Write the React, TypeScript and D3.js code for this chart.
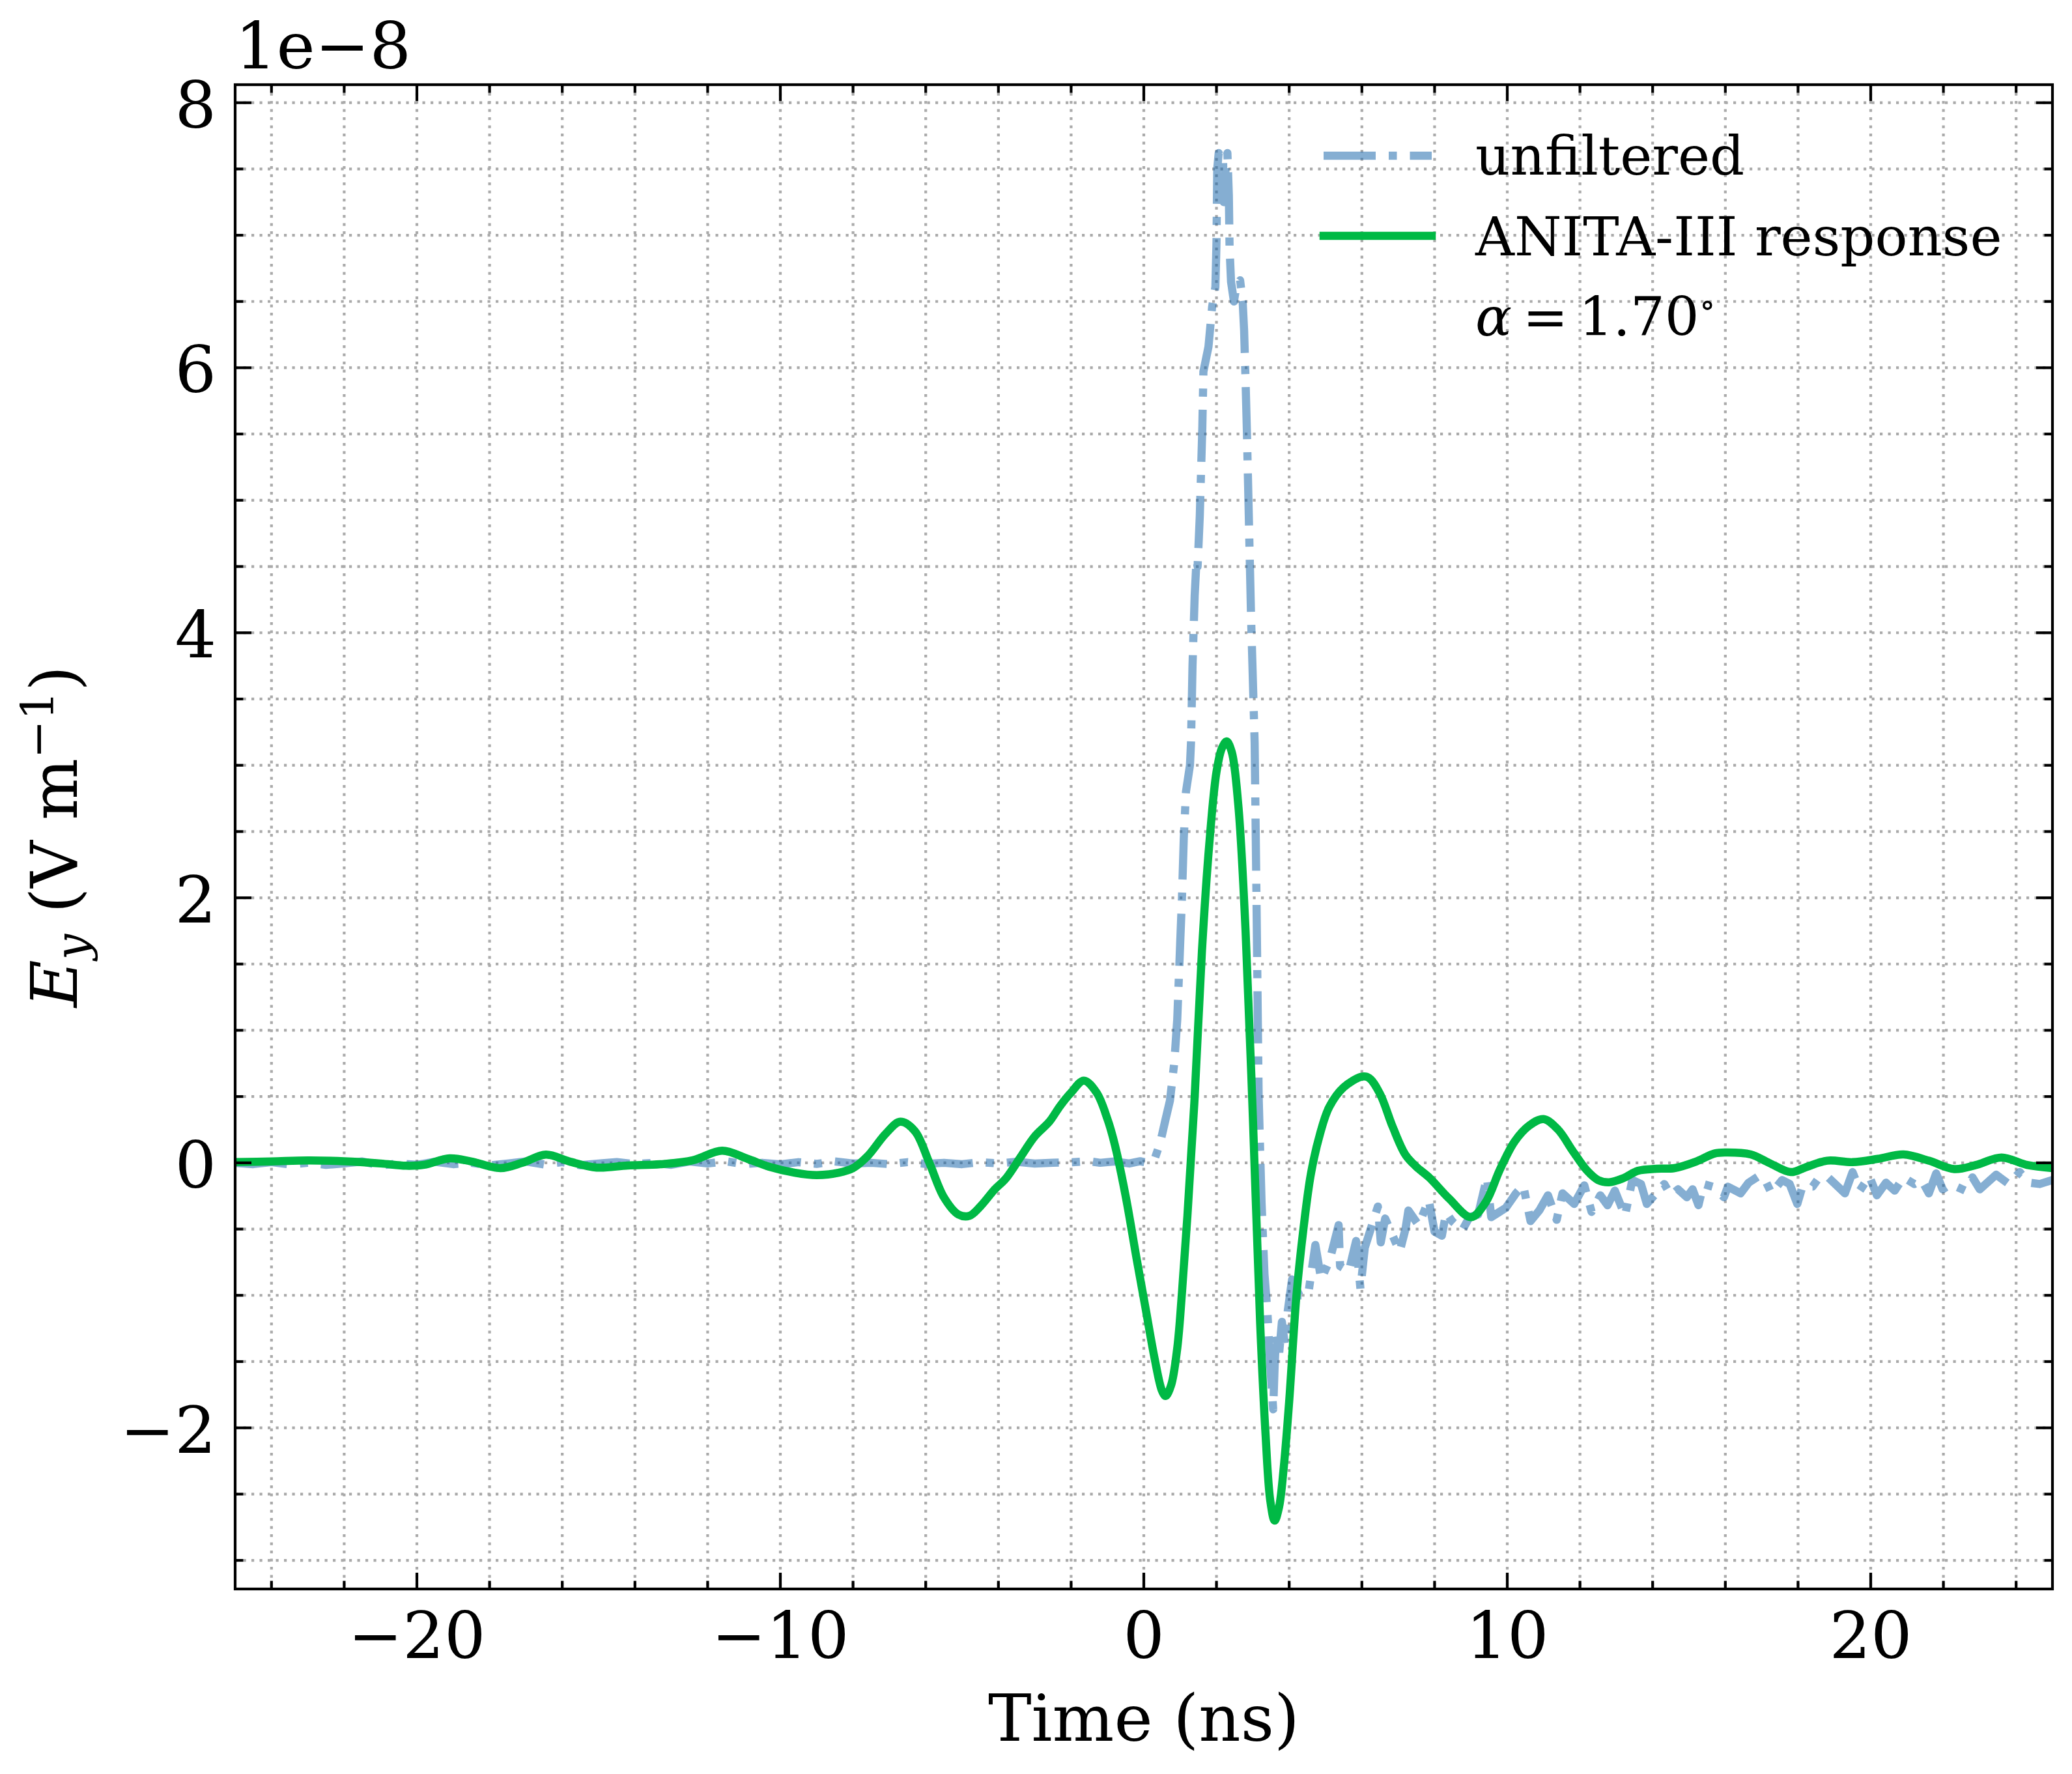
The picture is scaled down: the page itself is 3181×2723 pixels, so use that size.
import React from 'react';
import * as d3 from 'd3';

// ---------- data: [time (ns), E_y in units of 1e-8 V/m] ----------
const unfilteredSamples: [number, number][] = [
  [-25, 0.0], [-24.5, -0.01], [-24, 0.005], [-23.5, -0.012], [-23, 0.0], [-22.5, -0.015], [-22, -0.005],
  [-21.5, 0.01], [-21, -0.02], [-20.5, -0.005], [-20, -0.015], [-19.5, 0.008], [-19, -0.01], [-18.5, 0.0],
  [-18, -0.02], [-17.5, -0.005], [-17, 0.01], [-16.5, -0.012], [-16, 0.005], [-15.5, -0.018], [-15, -0.005],
  [-14.5, 0.006], [-14, -0.01], [-13.5, 0.0], [-13, -0.015], [-12.5, 0.01], [-12, -0.005], [-11.5, 0.012],
  [-11, -0.01], [-10.5, 0.0], [-10, -0.012], [-9.5, 0.005], [-9, -0.008], [-8.5, 0.01], [-8, -0.005],
  [-7.5, 0.0], [-7, -0.01], [-6.5, 0.005], [-6, -0.008], [-5.5, 0.0], [-5, -0.01], [-4.5, 0.005],
  [-4, -0.005], [-3.5, 0.008], [-3, -0.006], [-2.5, 0.0], [-2, 0.004], [-1.5, 0.012], [-1.2, 0.0],
  [-0.8, 0.01], [-0.4, -0.005], [-0.1, 0.012], [0.1, 0.0], [0.3, 0.03],
  [0.45, 0.15], [0.6, 0.33], [0.72, 0.47], [0.84, 0.76], [0.92, 1.08], [1.0, 1.65], [1.05, 2.0],
  [1.1, 2.45], [1.16, 2.8], [1.27, 3.0], [1.3, 3.18], [1.34, 3.75], [1.4, 4.28], [1.45, 4.55],
  [1.48, 4.5], [1.54, 4.88], [1.61, 5.55], [1.64, 5.97], [1.78, 6.16], [1.88, 6.46], [1.97, 6.61],
  [2.0, 6.95], [2.02, 7.5], [2.06, 7.62], [2.12, 7.58], [2.18, 7.59], [2.2, 7.25], [2.26, 7.55],
  [2.3, 7.62], [2.34, 7.3], [2.36, 6.9], [2.4, 6.65], [2.48, 6.5], [2.55, 6.62], [2.65, 6.66],
  [2.72, 6.5], [2.76, 6.28], [2.8, 5.9], [2.84, 5.48], [2.95, 4.13], [3.05, 3.17], [3.1, 2.0],
  [3.16, 0.5], [3.24, -0.3], [3.32, -0.84], [3.4, -1.12], [3.48, -1.53], [3.56, -1.86], [3.6, -1.53],
  [3.64, -1.29], [3.72, -1.45], [3.8, -1.2], [3.88, -1.37], [3.96, -1.12], [4.08, -0.88], [4.28, -1.0],
  [4.52, -1.0], [4.72, -0.62], [4.88, -0.88], [5.12, -0.73], [5.36, -0.47], [5.4, -0.78], [5.64, -0.82],
  [5.84, -0.59], [5.96, -0.95], [6.08, -0.64], [6.44, -0.33], [6.52, -0.6], [6.64, -0.42], [7.04, -0.67],
  [7.2, -0.5], [7.28, -0.36], [7.56, -0.47], [7.84, -0.28], [8.0, -0.52], [8.2, -0.55], [8.32, -0.375],
  [8.48, -0.44], [8.76, -0.51], [8.96, -0.41], [9.2, -0.39], [9.44, -0.11], [9.56, -0.41], [9.76, -0.375],
  [9.96, -0.34], [10.24, -0.23], [10.44, -0.17], [10.64, -0.44], [10.88, -0.36], [11.12, -0.245],
  [11.36, -0.43], [11.52, -0.23], [11.84, -0.31], [12.12, -0.17], [12.32, -0.37], [12.56, -0.245],
  [12.76, -0.32], [12.96, -0.21], [13.24, -0.4], [13.44, -0.13], [13.68, -0.16], [13.84, -0.31],
  [14.16, -0.21], [14.32, -0.16], [14.5, -0.245], [14.7, -0.2], [14.94, -0.26], [15.1, -0.2],
  [15.26, -0.32], [15.4, -0.16], [15.65, -0.18], [15.96, -0.26], [16.07, -0.18], [16.42, -0.23],
  [16.64, -0.15], [16.92, -0.1], [17.06, -0.11], [17.27, -0.23], [17.56, -0.13], [17.77, -0.16],
  [17.98, -0.31], [18.12, -0.18], [18.4, -0.18], [18.58, -0.11], [18.83, -0.11], [19.29, -0.23],
  [19.5, -0.07], [19.7, -0.21], [19.96, -0.1], [20.17, -0.245], [20.42, -0.15], [20.66, -0.21],
  [20.9, -0.11], [21.2, -0.16], [21.4, -0.13], [21.6, -0.23], [21.8, -0.08], [21.98, -0.2],
  [22.2, -0.16], [22.6, -0.21], [22.8, -0.11], [23.0, -0.2], [23.45, -0.09], [23.6, -0.12],
  [23.8, -0.16], [24.1, -0.07], [24.37, -0.15], [24.65, -0.16], [25, -0.13],
];

const responseSamples: [number, number][] = [
  [-25, 0.005], [-24, 0.01], [-23, 0.018], [-22, 0.012], [-21, -0.005], [-20.3, -0.022], [-19.8, -0.015],
  [-19.1, 0.034], [-18.5, 0.01], [-17.7, -0.04], [-17.1, 0.0], [-16.45, 0.062], [-15.8, 0.01],
  [-15.05, -0.036], [-14.2, -0.02], [-13.3, -0.011], [-12.4, 0.02], [-11.6, 0.092], [-10.9, 0.03],
  [-10.3, -0.03], [-9.6, -0.075], [-9.0, -0.093], [-8.4, -0.075], [-8.0, -0.04], [-7.6, 0.05],
  [-7.1, 0.22], [-6.7, 0.31], [-6.3, 0.24], [-5.9, 0.0], [-5.5, -0.26], [-5.1, -0.39], [-4.8, -0.4],
  [-4.5, -0.33], [-4.1, -0.2], [-3.8, -0.12], [-3.4, 0.04], [-3.0, 0.2], [-2.6, 0.31], [-2.3, 0.43],
  [-2.0, 0.53], [-1.65, 0.62], [-1.3, 0.53], [-1.0, 0.33], [-0.8, 0.14], [-0.5, -0.25], [-0.2, -0.72],
  [0.05, -1.1], [0.3, -1.48], [0.5, -1.72], [0.6, -1.76], [0.75, -1.68], [0.92, -1.4], [1.05, -0.98],
  [1.2, -0.4], [1.4, 0.5], [1.6, 1.6], [1.8, 2.4], [2.0, 2.95], [2.15, 3.13], [2.28, 3.18], [2.42, 3.1],
  [2.6, 2.7], [2.8, 1.75], [3.0, 0.35], [3.2, -1.2], [3.35, -2.05], [3.48, -2.55], [3.6, -2.7],
  [3.72, -2.6], [3.85, -2.3], [4.0, -1.8], [4.2, -1.0], [4.4, -0.48], [4.6, -0.08], [4.85, 0.22],
  [5.1, 0.42], [5.5, 0.57], [6.0, 0.65], [6.2, 0.64], [6.5, 0.52], [6.85, 0.27], [7.2, 0.06],
  [7.5, -0.03], [7.85, -0.11], [8.4, -0.27], [9.0, -0.41], [9.4, -0.3], [9.8, -0.05], [10.2, 0.16],
  [10.6, 0.28], [11.0, 0.33], [11.4, 0.25], [11.8, 0.09], [12.2, -0.06], [12.5, -0.13], [12.8, -0.147],
  [13.2, -0.115], [13.6, -0.06], [14.1, -0.045], [14.6, -0.04], [15.2, 0.01], [15.7, 0.07], [16.0, 0.078],
  [16.7, 0.063], [17.2, 0.0], [17.8, -0.07], [18.2, -0.035], [18.8, 0.016], [19.5, 0.005], [20.2, 0.03],
  [20.9, 0.063], [21.6, 0.016], [22.3, -0.047], [22.9, -0.016], [23.6, 0.04], [24.3, -0.016], [25, -0.04],
];

const xMajorTicks = [-20, -10, 0, 10, 20];
const xMinorTicks = [-24, -22, -18, -16, -14, -12, -8, -6, -4, -2, 2, 4, 6, 8, 12, 14, 16, 18, 22, 24];
const yMajorTicks = [-2, 0, 2, 4, 6, 8];
const yMinorTicks = [-3, -2.5, -1.5, -1, -0.5, 0.5, 1, 1.5, 2.5, 3, 3.5, 4.5, 5, 5.5, 6.5, 7, 7.5];
const legendLabels = ['unfiltered', 'ANITA-III response'];

// ---------- layout ----------
const W = 3181;
const H = 2723;
const L = 361, R = 3151, T = 130, B = 2439;
const FONT = "'DejaVu Serif', 'Liberation Serif', serif";
const BLUE = '#0C5DA5';
const GREEN = '#00B945';
const GRID = '#aaaaaa';
const LW = 12.5;
const AXW = 4.2;
const MAJ = 25;
const MIN = 12.5;

const fmt = (v: number) => (v < 0 ? '\u2212' + Math.abs(v) : String(v));

export default function App() {
  const x = d3.scaleLinear().domain([-25, 25]).range([L, R]);
  const y = d3.scaleLinear().domain([-3.216, 8.136]).range([B, T]);

  const lineLinear = d3.line<[number, number]>().x(d => x(d[0])).y(d => y(d[1]));
  const lineSmooth = d3
    .line<[number, number]>()
    .x(d => x(d[0]))
    .y(d => y(d[1]))
    .curve(d3.curveCatmullRom.alpha(0.5));

  const xAll = [...xMajorTicks.map(v => ({ v, major: true })), ...xMinorTicks.map(v => ({ v, major: false }))];
  const yAll = [...yMajorTicks.map(v => ({ v, major: true })), ...yMinorTicks.map(v => ({ v, major: false }))];

  const legendX0 = 2032, legendX1 = 2198, textX = 2265;

  return (
    <svg
      width={W}
      height={H}
      viewBox={`0 0 ${W} ${H}`}
      style={{ position: 'absolute', left: 0, top: 0, background: '#fff' }}
      fontFamily={FONT}
    >
      <rect x={0} y={0} width={W} height={H} fill="#fff" />
      <defs>
        <clipPath id="plotClip">
          <rect x={L} y={T} width={R - L} height={B - T} />
        </clipPath>
      </defs>

      {/* grid */}
      <g stroke={GRID} strokeWidth={4.2} strokeDasharray="4.2 8.3" fill="none">
        {xAll.map(d => (
          <line key={'gx' + d.v} x1={x(d.v)} x2={x(d.v)} y1={T} y2={B} />
        ))}
        {yAll.map(d => (
          <line key={'gy' + d.v} x1={L} x2={R} y1={y(d.v)} y2={y(d.v)} />
        ))}
      </g>

      {/* data */}
      <g clipPath="url(#plotClip)" fill="none">
        <path
          d={lineLinear(unfilteredSamples) || ''}
          stroke={BLUE}
          strokeOpacity={0.5}
          strokeWidth={LW}
          strokeDasharray="80 20 12.5 20"
          strokeLinejoin="round"
          strokeLinecap="butt"
        />
        <path
          d={lineSmooth(responseSamples) || ''}
          stroke={GREEN}
          strokeWidth={LW}
          strokeLinejoin="round"
          strokeLinecap="square"
        />
      </g>

      {/* ticks (inward, all four sides) */}
      <g stroke="#000" strokeWidth={AXW}>
        {xAll.map(d => {
          const len = d.major ? MAJ : MIN;
          return (
            <g key={'tx' + d.v}>
              <line x1={x(d.v)} x2={x(d.v)} y1={B} y2={B - len} />
              <line x1={x(d.v)} x2={x(d.v)} y1={T} y2={T + len} />
            </g>
          );
        })}
        {yAll.map(d => {
          const len = d.major ? MAJ : MIN;
          return (
            <g key={'ty' + d.v}>
              <line x1={L} x2={L + len} y1={y(d.v)} y2={y(d.v)} />
              <line x1={R} x2={R - len} y1={y(d.v)} y2={y(d.v)} />
            </g>
          );
        })}
      </g>

      {/* spines */}
      <rect x={L} y={T} width={R - L} height={B - T} fill="none" stroke="#000" strokeWidth={AXW} />

      {/* tick labels */}
      <g fontSize={100} fill="#000">
        {xMajorTicks.map(v => (
          <text key={'lx' + v} x={x(v)} y={2545} textAnchor="middle">
            {fmt(v)}
          </text>
        ))}
        {yMajorTicks.map(v => (
          <text key={'ly' + v} x={332} y={y(v) + 38} textAnchor="end">
            {fmt(v)}
          </text>
        ))}
      </g>

      {/* offset text */}
      <text x={L} y={105} fontSize={100} fill="#000">
        1e{'\u2212'}8
      </text>

      {/* axis labels */}
      <text x={1756} y={2672} fontSize={100} textAnchor="middle" fill="#000">
        Time (ns)
      </text>
      <text transform="translate(118,1284) rotate(-90)" fontSize={100} textAnchor="middle" fill="#000">
        <tspan fontStyle="italic">E</tspan>
        <tspan fontStyle="italic" fontSize={70} dy={17}>
          y
        </tspan>
        <tspan dy={-17}> (V m</tspan>
        <tspan fontSize={70} dy={-36}>
          {'\u2212'}1
        </tspan>
        <tspan dy={36}>)</tspan>
      </text>

      {/* legend */}
      <g>
        <line
          x1={legendX0}
          x2={legendX1}
          y1={239}
          y2={239}
          stroke={BLUE}
          strokeOpacity={0.5}
          strokeWidth={LW}
          strokeDasharray="80 20 12.5 20"
        />
        <line
          x1={legendX0}
          x2={legendX1}
          y1={362}
          y2={362}
          stroke={GREEN}
          strokeWidth={LW}
          strokeLinecap="square"
        />
        <text x={textX} y={268} fontSize={83} fill="#000">
          {legendLabels[0]}
        </text>
        <text x={textX} y={392} fontSize={83} fill="#000">
          {legendLabels[1]}
        </text>
        <text x={textX} y={515} fontSize={83} fill="#000">
          <tspan fontStyle="italic">{'\u03b1'}</tspan>
          <tspan>{'\u2009'}={'\u2009'}1.70</tspan>
          <tspan fontSize={52} dy={-30}>
            {'\u2218'}
          </tspan>
        </text>
      </g>
    </svg>
  );
}
